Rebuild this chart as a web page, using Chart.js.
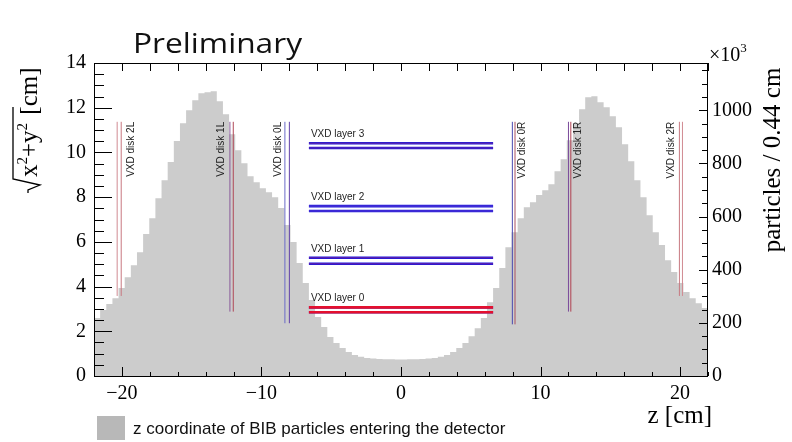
<!DOCTYPE html>
<html>
<head>
<meta charset="utf-8">
<script src="https://cdn.jsdelivr.net/npm/chart.js@4.4.1/dist/chart.umd.min.js"></script>
<style>
  html, body { margin: 0; padding: 0; background: #fff; }
  canvas { display: block; }
</style>
</head>
<body>
<canvas id="chart" width="792" height="442"></canvas>
<script>
// histogram: z of BIB particles, 100 bins of 0.44 cm from -22 cm (values in 10^3 particles)
const zLow = -22;
const binWidth = 0.44;
const counts = [
  218, 248, 271, 293, 331, 372, 417, 466, 534, 594,
  669, 737, 805, 884, 951, 1000, 1038, 1064, 1068, 1072,
  1034, 985, 910, 850, 801, 752, 729, 707, 692, 673,
  632, 568, 504, 425, 350, 286, 222, 184, 147, 124,
  105, 90, 79, 72, 68, 66, 64, 63, 63, 62,
  62, 63, 63, 64, 66, 68, 72, 79, 90, 105,
  124, 150, 180, 218, 278, 331, 406, 485, 541, 594,
  635, 654, 681, 699, 722, 771, 816, 887, 951, 1004,
  1049, 1053, 1030, 1011, 978, 936, 872, 808, 737, 673,
  605, 541, 493, 436, 391, 350, 316, 293, 274, 256
];

// VXD barrel layers (radius pairs, cm) and their z extent
const layerNames = ['VXD layer 0', 'VXD layer 1', 'VXD layer 2', 'VXD layer 3'];
const layerRadii = [[2.85, 3.07], [5.02, 5.29], [7.38, 7.60], [10.20, 10.41]];
const layerZ = [-6.6, 6.6];

// VXD disks (z pairs, cm), radial extent
const diskNames = ['VXD disk 2L', 'VXD disk 1L', 'VXD disk 0L', 'VXD disk 0R', 'VXD disk 1R', 'VXD disk 2R'];
const diskZ = [[-20.34, -20.05], [-12.26, -12.02], [-8.32, -8.0], [7.98, 8.17], [12.0, 12.17], [19.95, 20.17]];
const diskRmin = [3.58, 2.88, 2.36, 2.31, 2.88, 3.58];
const diskRmax = 11.37;
const diskLabelZ = [-19.35, -12.85, -8.8, 8.7, 12.7, 19.4];

// axis ticks
const xTicks = [-20, -10, 0, 10, 20];
const yTicks = [0, 2, 4, 6, 8, 10, 12, 14];
const y2Ticks = [0, 200, 400, 600, 800, 1000];
const y2Max = 1178;

const layerBlue = ['#3a2ec8', '#1818e0', '#1c1ce0', '#1c1cdc'];
const layerRed = ['#e4102e', 'rgba(220,40,80,0.55)', 'rgba(230,110,160,0.45)', 'rgba(220,50,90,0.5)'];
const layerRedWidth = [2.6, 0.8, 0.7, 0.8];
const diskColors = [
  ['#d08a92', '#c87880'], ['#8a5a9a', '#b04858'], ['#6a6ac8', '#6040a8'],
  ['#4848b0', '#a85060'], ['#7a4a9a', '#b04050'], ['#c87880', '#d08a92']
];

const histData = counts.map((c, i) => ({ x: zLow + i * binWidth, y: c }));
histData.push({ x: zLow + counts.length * binWidth, y: counts[counts.length - 1] });

const datasets = [{
  data: histData,
  yAxisID: 'y2',
  stepped: 'before',
  fill: 'origin',
  backgroundColor: '#cccccc',
  borderColor: 'rgba(0,0,0,0)',
  borderWidth: 0,
  pointRadius: 0,
  order: 10
}];

layerRadii.forEach((pair, li) => {
  pair.forEach(r => {
    datasets.push({
      data: layerZ.map(z => ({ x: z, y: r })),
      yAxisID: 'y', borderColor: layerBlue[li], borderWidth: 2.6,
      pointRadius: 0, fill: false, order: 3
    });
    datasets.push({
      data: layerZ.map(z => ({ x: z, y: r })),
      yAxisID: 'y', borderColor: layerRed[li], borderWidth: layerRedWidth[li],
      pointRadius: 0, fill: false, order: 2
    });
  });
});

diskZ.forEach((pair, di) => {
  pair.forEach((z, k) => {
    datasets.push({
      data: [{ x: z, y: diskRmin[di] }, { x: z, y: diskRmax }],
      yAxisID: 'y', borderColor: diskColors[di][k], borderWidth: 1,
      pointRadius: 0, fill: false, order: 1
    });
  });
});

const minus = v => (v < 0 ? '\u2212' + Math.abs(v) : String(v));

const decorations = {
  id: 'decorations',
  afterDraw(chart) {
    const ctx = chart.ctx;
    const a = chart.chartArea;
    const sx = chart.scales.x, sy = chart.scales.y, sy2 = chart.scales.y2;
    ctx.save();

    // labels of layers
    ctx.fillStyle = '#222';
    ctx.font = '10px "Liberation Sans", Arial, sans-serif';
    ctx.textAlign = 'left';
    ctx.textBaseline = 'alphabetic';
    layerNames.forEach((name, i) => {
      ctx.fillText(name, sx.getPixelForValue(layerZ[0]) + 2, sy.getPixelForValue(layerRadii[i][1]) - 6);
    });

    // labels of disks (rotated)
    diskNames.forEach((name, i) => {
      ctx.save();
      ctx.translate(sx.getPixelForValue(diskLabelZ[i]), sy.getPixelForValue(diskRmax));
      ctx.rotate(-Math.PI / 2);
      ctx.textAlign = 'right';
      ctx.textBaseline = 'middle';
      ctx.fillText(name, 0, 0);
      ctx.restore();
    });

    // frame
    ctx.strokeStyle = '#000';
    ctx.lineWidth = 1;
    ctx.strokeRect(Math.round(a.left) + 0.5, Math.round(a.top) + 0.5,
      Math.round(a.right - a.left) - 1, Math.round(a.bottom - a.top));

    ctx.beginPath();
    // x ticks, bottom and top
    for (let v = -22; v <= 22.001; v += 2) {
      const px = Math.round(sx.getPixelForValue(v)) + 0.5;
      const major = v % 10 === 0;
      ctx.moveTo(px, a.bottom); ctx.lineTo(px, a.bottom - (major ? 9 : 4));
      ctx.moveTo(px, a.top); ctx.lineTo(px, a.top + 8);
    }
    // left ticks
    for (let v = 0; v <= 14.001; v += 0.5) {
      const py = Math.round(sy.getPixelForValue(v)) + 0.5;
      const major = Math.abs(v % 2) < 1e-6;
      ctx.moveTo(a.left, py); ctx.lineTo(a.left + (major ? 18 : 10), py);
    }
    // right ticks
    for (let v = 0; v <= y2Max; v += 50) {
      const py = Math.round(sy2.getPixelForValue(v)) + 0.5;
      const major = v % 200 === 0;
      ctx.moveTo(a.right, py); ctx.lineTo(a.right - (major ? 9 : 6), py);
    }
    ctx.stroke();

    // title
    ctx.fillStyle = '#111';
    ctx.font = '28px "Open Sans", "Liberation Sans", sans-serif';
    ctx.textAlign = 'left';
    ctx.textBaseline = 'alphabetic';
    const tw = ctx.measureText('Preliminary').width;
    ctx.save();
    ctx.translate(133, 53);
    ctx.scale(169 / tw, 1);
    ctx.fillText('Preliminary', 0, 0);
    ctx.restore();

    // x10^3
    ctx.fillStyle = '#000';
    ctx.font = '20px "Liberation Serif", "Times New Roman", serif';
    ctx.fillText('\u00d710', a.right + 1, a.top - 2);
    const w10 = ctx.measureText('\u00d710').width;
    ctx.font = '13px "Liberation Serif", "Times New Roman", serif';
    ctx.fillText('3', a.right + 1 + w10, a.top - 11);

    // x axis title
    ctx.font = '25px "Liberation Serif", "Times New Roman", serif';
    ctx.textAlign = 'right';
    ctx.fillText('z [cm]', 712, 423);

    // right axis title
    ctx.save();
    ctx.translate(773, 160);
    ctx.rotate(-Math.PI / 2);
    ctx.textAlign = 'center';
    ctx.textBaseline = 'middle';
    ctx.fillText('particles / 0.44 cm', 0, 0);
    ctx.restore();

    // left axis title: sqrt(x^2+y^2) [cm]
    ctx.save();
    ctx.translate(37, 193);
    ctx.rotate(-Math.PI / 2);
    ctx.textAlign = 'left';
    ctx.textBaseline = 'alphabetic';
    ctx.lineWidth = 1.3;
    ctx.beginPath();
    ctx.moveTo(0, -9); ctx.lineTo(3, -9); ctx.lineTo(8, 3); ctx.lineTo(14, -24); ctx.lineTo(86, -24);
    ctx.stroke();
    let cx = 16;
    const parts = [['x', 0, 25], ['2', -10, 15], ['+y', 0, 25], ['2', -10, 15], [' [cm]', 0, 25]];
    parts.forEach((p, i) => {
      ctx.font = p[2] + 'px "Liberation Serif", "Times New Roman", serif';
      ctx.fillText(p[0], cx, p[1]);
      cx += ctx.measureText(p[0]).width + (i === 3 ? 2 : 0);
    });
    ctx.restore();

    // legend
    ctx.fillStyle = '#b8b8b8';
    ctx.fillRect(97, 416, 28, 24);
    ctx.fillStyle = '#111';
    ctx.font = '17px "Liberation Sans", Arial, sans-serif';
    ctx.textAlign = 'left';
    ctx.textBaseline = 'middle';
    ctx.fillText('z coordinate of BIB particles entering the detector', 133, 429);

    ctx.restore();
  }
};

const serif = { family: '"Liberation Serif", "Times New Roman", serif', size: 20 };

new Chart(document.getElementById('chart').getContext('2d'), {
  type: 'line',
  data: { datasets: datasets },
  options: {
    responsive: false,
    animation: false,
    layout: { padding: { top: 63, left: 0, right: 0, bottom: 0 } },
    elements: { line: { tension: 0 } },
    plugins: { legend: { display: false }, tooltip: { enabled: false } },
    scales: {
      x: {
        type: 'linear', min: -22, max: 22,
        grid: { display: false, drawTicks: false },
        border: { display: false },
        afterBuildTicks: s => { s.ticks = xTicks.map(v => ({ value: v })); },
        afterFit: s => { s.height = 66; },
        ticks: { font: serif, color: '#000', padding: 6, maxRotation: 0, autoSkip: false, callback: v => minus(v) }
      },
      y: {
        position: 'left', min: 0, max: 14,
        grid: { display: false, drawTicks: false },
        border: { display: false },
        afterBuildTicks: s => { s.ticks = yTicks.map(v => ({ value: v })); },
        afterFit: s => { s.width = 94; },
        ticks: { font: serif, color: '#000', padding: 8, autoSkip: false, callback: v => String(v) }
      },
      y2: {
        position: 'right', min: 0, max: y2Max,
        grid: { display: false, drawTicks: false },
        border: { display: false },
        afterBuildTicks: s => { s.ticks = y2Ticks.map(v => ({ value: v })); },
        afterFit: s => { s.width = 84; },
        ticks: { font: serif, color: '#000', padding: 4, autoSkip: false, callback: v => String(v) }
      }
    }
  },
  plugins: [decorations]
});
</script>
</body>
</html>
